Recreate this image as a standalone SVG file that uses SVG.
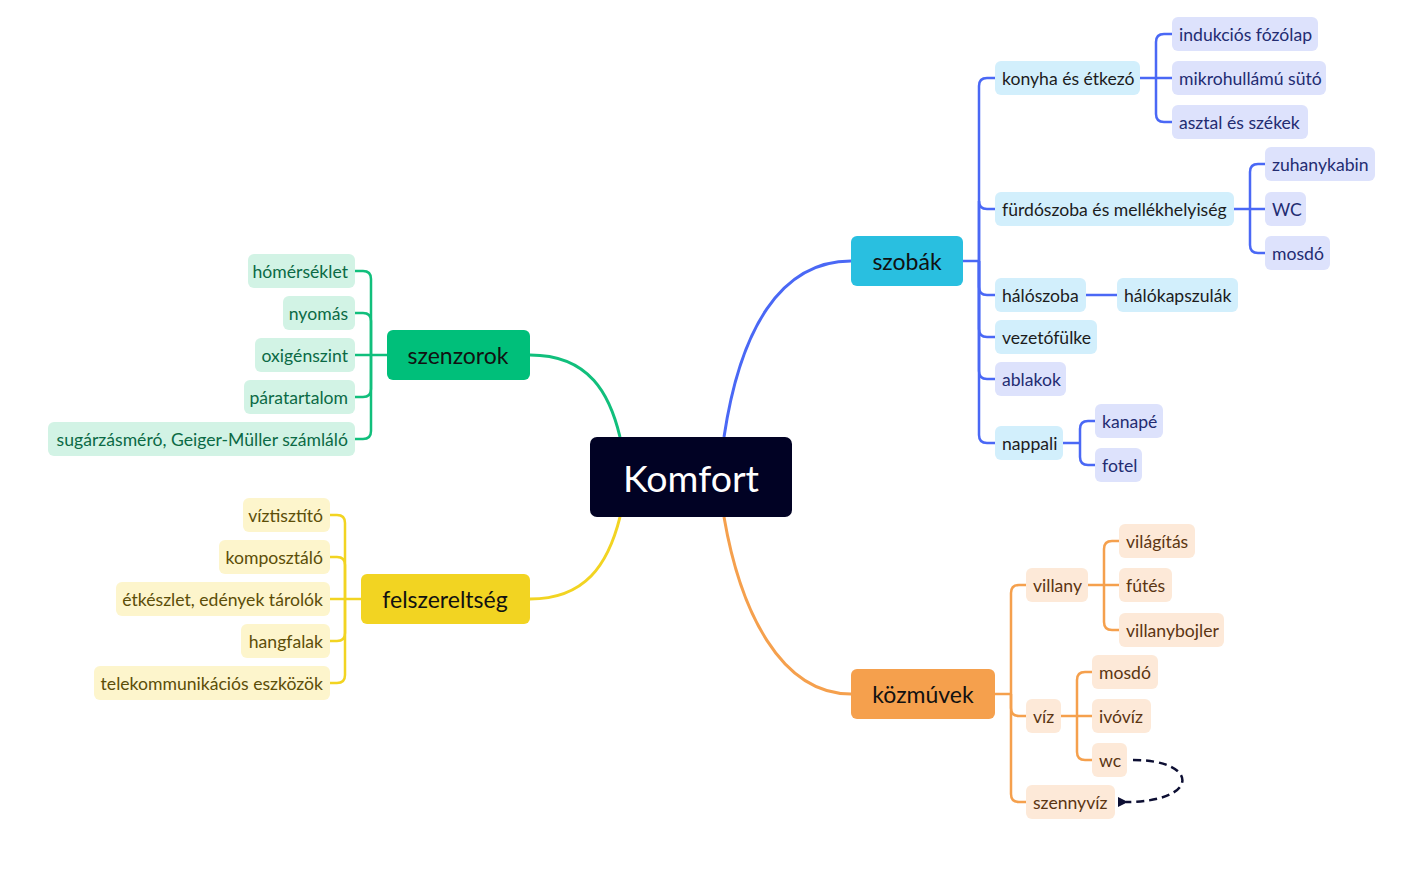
<svg xmlns="http://www.w3.org/2000/svg" width="1424" height="892" viewBox="0 0 1424 892">
<style>
text{font-family:Lato,"Noto Sans",sans-serif;dominant-baseline:central}
.t{font-size:17.6px}
.m{font-size:23px;fill:#111;text-anchor:middle}
.lb rect{fill:#d2effc}.lb text{fill:#1c1c1c}
.lv rect{fill:#dde2fc}.lv text{fill:#232c72}
.pe rect{fill:#fde9d8}.pe text{fill:#5b3512}
.gr rect{fill:#d2f3e5}.gr text{fill:#0b6a45;text-anchor:end}
.ye rect{fill:#fdf5cc}.ye text{fill:#5c4e08;text-anchor:end}
.cb{stroke:#4a68f5}.co{stroke:#f5a04d}.cg{stroke:#11bf7c}.cy{stroke:#f2d422}
#conn path{fill:none;stroke-width:2.5}
#conn path.main{stroke-width:3}
</style>
<defs>
<marker id="ah" viewBox="0 0 10 10" refX="2" refY="5" markerWidth="11" markerHeight="10" orient="auto-start-reverse" markerUnits="userSpaceOnUse"><path d="M10,0 L0,5 L10,10 z" fill="#0d0f33"/></marker>
</defs>
<rect width="1424" height="892" fill="#fff"/>
<g id="conn">
<path class="cg main" d="M620,437 C610,395 590,355 530,355"/>
<path class="cb main" d="M724,437 C740,330 780,261 851,261"/>
<path class="cy main" d="M620,517 C608,565 585,599 530,599"/>
<path class="co main" d="M724,517 C740,610 780,694 851,694"/>
<path class="cb" d="M963,261 H979"/>
<path class="cb" d="M979,261 V86 Q979,78 987,78 H995"/>
<path class="cb" d="M979,261 V201 Q979,209 987,209 H995"/>
<path class="cb" d="M979,261 V287 Q979,295 987,295 H995"/>
<path class="cb" d="M979,261 V329 Q979,337 987,337 H995"/>
<path class="cb" d="M979,261 V371 Q979,379 987,379 H995"/>
<path class="cb" d="M979,261 V435 Q979,443 987,443 H995"/>
<path class="cb" d="M1140,78 H1156"/>
<path class="cb" d="M1156,78 V42 Q1156,34 1164,34 H1172"/>
<path class="cb" d="M1156,78 H1172"/>
<path class="cb" d="M1156,78 V114 Q1156,122 1164,122 H1172"/>
<path class="cb" d="M1234,209 H1250"/>
<path class="cb" d="M1250,209 V172 Q1250,164 1258,164 H1265"/>
<path class="cb" d="M1250,209 H1265"/>
<path class="cb" d="M1250,209 V245 Q1250,253 1258,253 H1265"/>
<path class="cb" d="M1086,295 H1117"/>
<path class="cb" d="M1063,443 H1080"/>
<path class="cb" d="M1080,443 V429 Q1080,421 1088,421 H1095"/>
<path class="cb" d="M1080,443 V457 Q1080,465 1088,465 H1095"/>
<path class="co" d="M995,694 H1011"/>
<path class="co" d="M1011,694 V593 Q1011,585 1019,585 H1026"/>
<path class="co" d="M1011,694 V708 Q1011,716 1019,716 H1026"/>
<path class="co" d="M1011,694 V794 Q1011,802 1019,802 H1026"/>
<path class="co" d="M1088,585 H1104"/>
<path class="co" d="M1104,585 V549 Q1104,541 1112,541 H1119"/>
<path class="co" d="M1104,585 H1119"/>
<path class="co" d="M1104,585 V622 Q1104,630 1112,630 H1119"/>
<path class="co" d="M1061,716 H1077"/>
<path class="co" d="M1077,716 V680 Q1077,672 1085,672 H1092"/>
<path class="co" d="M1077,716 H1092"/>
<path class="co" d="M1077,716 V752 Q1077,760 1085,760 H1092"/>
<path class="cg" d="M387,355 H371"/>
<path class="cg" d="M371,355 V279 Q371,271 363,271 H355"/>
<path class="cg" d="M371,355 V321 Q371,313 363,313 H355"/>
<path class="cg" d="M371,355 H355"/>
<path class="cg" d="M371,355 V389 Q371,397 363,397 H355"/>
<path class="cg" d="M371,355 V431 Q371,439 363,439 H355"/>
<path class="cy" d="M361,599 H345"/>
<path class="cy" d="M345,599 V523 Q345,515 337,515 H330"/>
<path class="cy" d="M345,599 V565 Q345,557 337,557 H330"/>
<path class="cy" d="M345,599 H330"/>
<path class="cy" d="M345,599 V633 Q345,641 337,641 H330"/>
<path class="cy" d="M345,599 V675 Q345,683 337,683 H330"/>
<path d="M1133,760 C1200,760 1200,802 1126,802" stroke="#0d0f33" stroke-width="2.2" stroke-dasharray="8,5" marker-end="url(#ah)"/>
</g>
<g id="komfort"><rect x="590" y="437" width="202" height="80" rx="7" fill="#010224"/><text x="691" y="477" font-size="37.5" fill="#fff" text-anchor="middle">Komfort</text></g>
<g id="szobak"><rect x="851" y="236" width="112" height="50" rx="6" fill="#29bfe0"/><text class="m" x="907" y="261">szobák</text></g>
<g id="szenzorok"><rect x="387" y="330" width="143" height="50" rx="6" fill="#00bf7a"/><text class="m" x="458" y="355">szenzorok</text></g>
<g id="felszereltseg"><rect x="361" y="574" width="169" height="50" rx="6" fill="#f2d422"/><text class="m" x="445" y="599">felszereltség</text></g>
<g id="kozmuvek"><rect x="851" y="669" width="144" height="50" rx="6" fill="#f5a04d"/><text class="m" x="923" y="694">közmúvek</text></g>

<g id="konyha" class="lb"><rect x="995" y="61" width="145" height="34" rx="6"/><text class="t" x="1002" y="78">konyha és étkezó</text></g>
<g id="furdo" class="lb"><rect x="995" y="192" width="239" height="34" rx="6"/><text class="t" x="1002" y="209">fürdószoba és mellékhelyiség</text></g>
<g id="haloszoba" class="lb"><rect x="995" y="278" width="91" height="34" rx="6"/><text class="t" x="1002" y="295">hálószoba</text></g>
<g id="vezetofulke" class="lb"><rect x="995" y="320" width="102" height="34" rx="6"/><text class="t" x="1002" y="337">vezetófülke</text></g>
<g id="ablakok" class="lv"><rect x="995" y="362" width="71" height="34" rx="6"/><text class="t" x="1002" y="379">ablakok</text></g>
<g id="nappali" class="lb"><rect x="995" y="426" width="68" height="34" rx="6"/><text class="t" x="1002" y="443">nappali</text></g>
<g id="indukcios" class="lv"><rect x="1172" y="17" width="146" height="34" rx="6"/><text class="t" x="1179" y="34">indukciós fózólap</text></g>
<g id="mikro" class="lv"><rect x="1172" y="61" width="154" height="34" rx="6"/><text class="t" x="1179" y="78">mikrohullámú sütó</text></g>
<g id="asztal" class="lv"><rect x="1172" y="105" width="136" height="34" rx="6"/><text class="t" x="1179" y="122">asztal és székek</text></g>
<g id="zuhany" class="lv"><rect x="1265" y="147" width="110" height="34" rx="6"/><text class="t" x="1272" y="164">zuhanykabin</text></g>
<g id="wc1" class="lv"><rect x="1265" y="192" width="41" height="34" rx="6"/><text class="t" x="1272" y="209">WC</text></g>
<g id="mosdo1" class="lv"><rect x="1265" y="236" width="65" height="34" rx="6"/><text class="t" x="1272" y="253">mosdó</text></g>
<g id="halokapszulak" class="lb"><rect x="1117" y="278" width="121" height="34" rx="6"/><text class="t" x="1124" y="295">hálókapszulák</text></g>
<g id="kanape" class="lv"><rect x="1095" y="404" width="68" height="34" rx="6"/><text class="t" x="1102" y="421">kanapé</text></g>
<g id="fotel" class="lv"><rect x="1095" y="448" width="47" height="34" rx="6"/><text class="t" x="1102" y="465">fotel</text></g>

<g id="villany" class="pe"><rect x="1026" y="568" width="62" height="34" rx="6"/><text class="t" x="1033" y="585">villany</text></g>
<g id="viz" class="pe"><rect x="1026" y="699" width="35" height="34" rx="6"/><text class="t" x="1033" y="716">víz</text></g>
<g id="szennyviz" class="pe"><rect x="1026" y="785" width="89" height="34" rx="6"/><text class="t" x="1033" y="802">szennyvíz</text></g>
<g id="vilagitas" class="pe"><rect x="1119" y="524" width="76" height="34" rx="6"/><text class="t" x="1126" y="541">világítás</text></g>
<g id="futes" class="pe"><rect x="1119" y="568" width="53" height="34" rx="6"/><text class="t" x="1126" y="585">fútés</text></g>
<g id="villanybojler" class="pe"><rect x="1119" y="613" width="105" height="34" rx="6"/><text class="t" x="1126" y="630">villanybojler</text></g>
<g id="mosdo2" class="pe"><rect x="1092" y="655" width="66" height="34" rx="6"/><text class="t" x="1099" y="672">mosdó</text></g>
<g id="ivoviz" class="pe"><rect x="1092" y="699" width="59" height="34" rx="6"/><text class="t" x="1099" y="716">ivóvíz</text></g>
<g id="wc2" class="pe"><rect x="1092" y="743" width="35" height="34" rx="6"/><text class="t" x="1099" y="760">wc</text></g>

<g id="homerseklet" class="gr"><rect x="248" y="254" width="107" height="34" rx="6"/><text class="t" x="348" y="271">hómérséklet</text></g>
<g id="nyomas" class="gr"><rect x="283" y="296" width="72" height="34" rx="6"/><text class="t" x="348" y="313">nyomás</text></g>
<g id="oxigen" class="gr"><rect x="255" y="338" width="100" height="34" rx="6"/><text class="t" x="348" y="355">oxigénszint</text></g>
<g id="para" class="gr"><rect x="244" y="380" width="111" height="34" rx="6"/><text class="t" x="348" y="397">páratartalom</text></g>
<g id="sugarzas" class="gr"><rect x="48" y="422" width="307" height="34" rx="6"/><text class="t" x="348" y="439">sugárzásméró, Geiger-Müller számláló</text></g>

<g id="viztisztito" class="ye"><rect x="243" y="498" width="87" height="34" rx="6"/><text class="t" x="323" y="515">víztisztító</text></g>
<g id="komposztalo" class="ye"><rect x="219" y="540" width="111" height="34" rx="6"/><text class="t" x="323" y="557">komposztáló</text></g>
<g id="etkeszlet" class="ye"><rect x="116" y="582" width="214" height="34" rx="6"/><text class="t" x="323" y="599">étkészlet, edények tárolók</text></g>
<g id="hangfalak" class="ye"><rect x="241" y="624" width="89" height="34" rx="6"/><text class="t" x="323" y="641">hangfalak</text></g>
<g id="telekom" class="ye"><rect x="94" y="666" width="236" height="34" rx="6"/><text class="t" x="323" y="683">telekommunikációs eszközök</text></g>
</svg>
